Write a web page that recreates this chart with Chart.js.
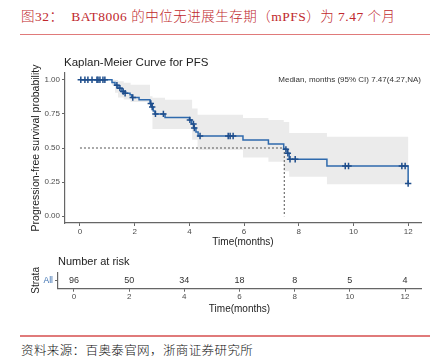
<!DOCTYPE html>
<html><head><meta charset="utf-8">
<script src="https://cdn.jsdelivr.net/npm/chart.js@4.4.0/dist/chart.umd.min.js"></script>
<style>
body{margin:0;width:444px;height:363px;position:relative;background:#fff;overflow:hidden;font-family:"Liberation Sans",Arial,sans-serif;}
.abs{position:absolute;white-space:nowrap;}
#hdr{left:21px;top:7px;font-size:13.5px;line-height:20px;color:#c0282d;font-family:"Liberation Serif","Noto Sans CJK SC",serif;font-weight:300;letter-spacing:0.5px;}
.rule{position:absolute;left:20px;width:410px;height:1.5px;background:#e07a7a;}
#src{left:21px;top:341px;font-size:12.5px;line-height:18px;color:#111;font-family:"Noto Sans CJK SC",sans-serif;font-weight:300;letter-spacing:0.4px;}
#kmTitle{left:64px;top:55px;font-size:11.5px;line-height:14px;color:#222}
#median{right:23px;top:75px;font-size:8px;line-height:10px;color:#333}
#nar{left:58px;top:254px;font-size:11px;line-height:14px;color:#222}
.box{position:absolute;left:0;width:444px}
</style></head>
<body>
<div class="box" style="top:55px;height:200px"><canvas id="km"></canvas></div>
<div class="box" style="top:265px;height:55px"><canvas id="risk"></canvas></div>
<div id="hdr" class="abs">图32：&nbsp;&nbsp;BAT8006 的中位无进展生存期（mPFS）为 7.47 个月</div>
<div class="rule" style="top:33.5px"></div>
<div id="kmTitle" class="abs">Kaplan-Meier Curve for PFS</div>
<div id="median" class="abs">Median, months (95% CI) 7.47(4.27,NA)</div>
<div id="nar" class="abs">Number at risk</div>
<div class="rule" style="top:335px"></div>
<div id="src" class="abs">资料来源：百奥泰官网，浙商证券研究所</div>
<script>
// ---- data ----
const kmTimes = [0, 1.17, 1.28, 1.39, 1.53, 1.65, 1.83, 1.89, 2.16, 2.56, 2.62, 2.68, 2.74, 3.11, 4.00, 4.08, 4.16, 4.24, 4.32, 5.96, 6.89, 7.45, 7.58, 7.65, 9.03, 12.0];
const kmSurv  = [1.000, 0.980, 0.960, 0.939, 0.914, 0.902, 0.890, 0.870, 0.853, 0.826, 0.800, 0.772, 0.750, 0.724, 0.706, 0.676, 0.647, 0.618, 0.588, 0.559, 0.529, 0.490, 0.461, 0.417, 0.368, 0.240];
const bandTimes = [1.17, 1.28, 1.39, 1.60, 1.85, 2.56, 2.65, 3.11, 4.10, 4.30, 5.96, 6.89, 7.45, 7.65, 9.03, 12.0];
const bandUpper = [1.000, 0.998, 0.990, 0.978, 0.963, 0.880, 0.868, 0.853, 0.790, 0.743, 0.720, 0.706, 0.690, 0.610, 0.583, 0.583];
const bandLower = [0.960, 0.905, 0.870, 0.855, 0.838, 0.830, 0.640, 0.640, 0.560, 0.485, 0.430, 0.400, 0.330, 0.289, 0.235, 0.235];
const censorTimes = [0.03, 0.18, 0.29, 0.44, 0.62, 0.66, 0.73, 0.84, 0.91, 1.35, 1.46, 1.58, 1.65, 1.93, 2.59, 2.64, 2.76, 3.05, 4.02, 4.15, 4.18, 4.39, 5.42, 5.49, 5.60, 7.53, 7.60, 7.68, 7.87, 9.70, 9.82, 11.77, 11.89, 12.0];
const medianTime = 7.47;
const medianSurv = 0.5;
const xTickVals = [0, 2, 4, 6, 8, 10, 12];
const yTickVals = [0, 0.25, 0.5, 0.75, 1.0];
const riskTimes = [0, 2, 4, 6, 8, 10, 12];
const riskCounts = [96, 50, 34, 18, 8, 5, 4];
const strata = ['All'];

function stepValue(ts, vs, t){ let v = vs[0]; for (let i = 0; i < ts.length; i++) { if (ts[i] <= t) v = vs[i]; } return v; }
const pts = (ts, vs) => ts.map((t, i) => ({x: t, y: vs[i]}));
// expand a step function into corner points (value holds until next time)
function stepPts(ts, vs){
  const out = [];
  for (let i = 0; i < ts.length; i++) {
    if (i > 0) out.push({x: ts[i], y: vs[i - 1]});
    out.push({x: ts[i], y: vs[i]});
  }
  return out;
}
// closed outline of the confidence band: upper edge forward, lower edge back
const bandOutline = stepPts(bandTimes, bandUpper).concat(stepPts(bandTimes, bandLower).reverse());

const FONT = '"Liberation Sans", Arial, sans-serif';
const AXIS = '#666';
const TICKC = '#4d4d4d';
const BLUE = '#2f6aad';

new Chart(document.getElementById('km'), {
  type: 'line',
  data: { datasets: [
    { data: bandOutline, fill: 'shape', backgroundColor: '#ebebeb', borderWidth: 0, borderColor: 'rgba(0,0,0,0)', pointRadius: 0, tension: 0, order: 4 },
    { data: [{x: 0, y: medianSurv}, {x: medianTime, y: medianSurv}], borderColor: '#555', borderWidth: 1, borderDash: [2, 2], pointRadius: 0, fill: false, order: 2 },
    { data: [{x: medianTime, y: medianSurv}, {x: medianTime, y: 0}], borderColor: '#555', borderWidth: 1, borderDash: [2, 2], pointRadius: 0, fill: false, order: 2 },
    { data: pts(kmTimes, kmSurv), stepped: true, borderColor: BLUE, borderWidth: 1.5, pointRadius: 0, fill: false, order: 1 },
    { type: 'scatter', data: censorTimes.map(t => ({x: t, y: stepValue(kmTimes, kmSurv, t)})), showLine: false, pointStyle: 'cross', pointRadius: 3.2, borderColor: '#1f4e8c', borderWidth: 1.5, order: 0 }
  ]},
  options: {
    responsive: true, maintainAspectRatio: false, animation: false,
    layout: { padding: { left: 0, right: 23, top: 18, bottom: 0 } },
    plugins: { legend: { display: false }, tooltip: { enabled: false } },
    scales: {
      x: { type: 'linear', min: -0.548, max: 12.47,
        afterFit: s => { s.height = 32; },
        afterBuildTicks: s => { s.ticks = xTickVals.map(v => ({value: v})); },
        grid: { drawOnChartArea: false, tickLength: 3, color: AXIS },
        border: { display: true, color: AXIS, width: 1.2 },
        ticks: { padding: 1, color: TICKC, font: { family: FONT, size: 8 }, maxRotation: 0 },
        title: { display: true, text: 'Time(months)', color: '#222', font: { family: FONT, size: 10 }, padding: { top: 0, bottom: 6.5 } }
      },
      y: { type: 'linear', min: -0.05, max: 1.05,
        afterFit: s => { s.width = 65; },
        afterBuildTicks: s => { s.ticks = yTickVals.map(v => ({value: v})); },
        grid: { drawOnChartArea: false, tickLength: 3, color: AXIS },
        border: { display: true, color: AXIS, width: 1.2 },
        ticks: { padding: 2, color: TICKC, font: { family: FONT, size: 8 }, callback: v => v.toFixed(2) },
        title: { display: true, text: 'Progression-free survival probability', color: '#222', font: { family: FONT, size: 10.5 }, padding: { top: 29.7, bottom: 0 } }
      }
    }
  }
});

const riskLabels = {
  id: 'riskLabels',
  afterDatasetsDraw(chart) {
    const meta = chart.getDatasetMeta(0);
    const ctx = chart.ctx;
    ctx.save();
    ctx.font = '9px ' + FONT;
    ctx.fillStyle = '#333';
    ctx.textAlign = 'center';
    ctx.textBaseline = 'middle';
    meta.data.forEach((p, i) => ctx.fillText(String(riskCounts[i]), p.x, p.y));
    ctx.restore();
  }
};

new Chart(document.getElementById('risk'), {
  type: 'scatter',
  data: { datasets: [ { data: riskTimes.map(t => ({x: t, y: strata[0]})), pointRadius: 0 } ] },
  options: {
    responsive: true, maintainAspectRatio: false, animation: false,
    layout: { padding: { left: 0, right: 23, top: 6, bottom: 0 } },
    plugins: { legend: { display: false }, tooltip: { enabled: false } },
    scales: {
      x: { type: 'linear', min: -0.58, max: 12.58,
        afterFit: s => { s.height = 31.3; },
        afterBuildTicks: s => { s.ticks = riskTimes.map(v => ({value: v})); },
        grid: { drawOnChartArea: false, tickLength: 3, color: AXIS },
        border: { display: true, color: AXIS, width: 1.2 },
        ticks: { padding: 0.2, color: TICKC, font: { family: FONT, size: 8 }, maxRotation: 0 },
        title: { display: true, text: 'Time(months)', color: '#222', font: { family: FONT, size: 10 }, padding: { top: 0, bottom: 5 } }
      },
      y: { type: 'category', labels: strata, offset: true,
        afterFit: s => { s.width = 58; },
        grid: { drawOnChartArea: false, tickLength: 3, color: AXIS, offset: false },
        border: { display: true, color: AXIS, width: 1.2 },
        ticks: { padding: 2, color: '#3a6fb0', font: { family: FONT, size: 8.5 } },
        title: { display: true, text: 'Strata', color: '#222', font: { family: FONT, size: 10 }, padding: { top: 30, bottom: 0 } }
      }
    }
  },
  plugins: [riskLabels]
});
</script>
</body></html>
